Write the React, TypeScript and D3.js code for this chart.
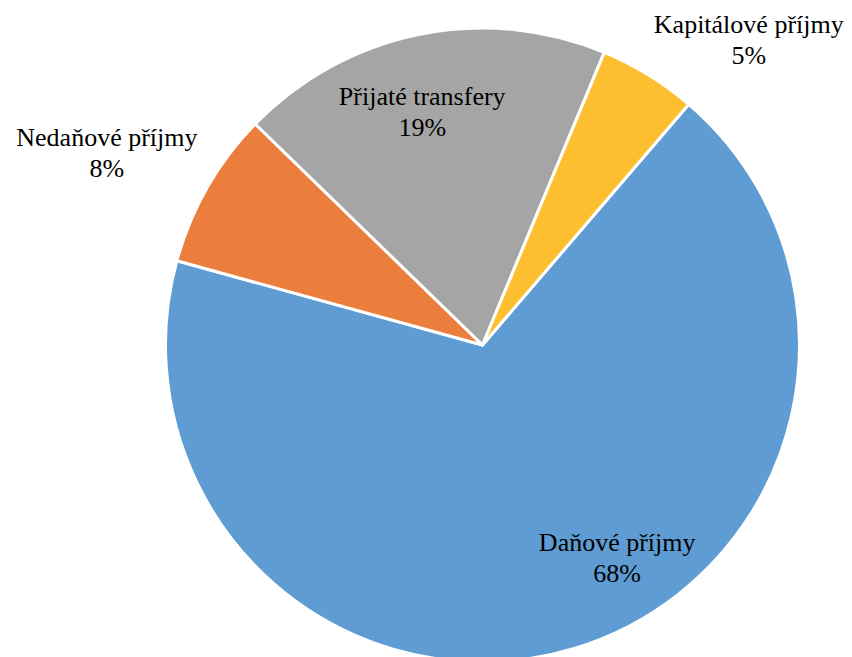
import { useEffect, useRef } from "react";
import * as d3 from "d3";

const categories = ["Daňové příjmy", "Nedaňové příjmy", "Přijaté transfery", "Kapitálové příjmy"];
const shares = [68, 8, 19, 5];
const colors = ["#5E9CD3", "#EB7E3C", "#A5A5A5", "#FDBF2F"];

// label anchor (first line baseline), polar around the pie centre
const labelAngles = [146.8, 297.9, 345.9, 40.5];
const labelRadii = [246, 425, 247.5, 410];

const WIDTH = 852;
const HEIGHT = 657;

export default function App() {
  const svgRef = useRef<SVGSVGElement>(null);

  useEffect(() => {
    if (!svgRef.current) return;
    const svg = d3.select(svgRef.current);
    svg.selectAll("*").remove();

    const cx = 482.5;
    const cy = 345;
    const radius = 317;

    const rows = categories.map((name, i) => ({ name, value: shares[i], i }));

    const pie = d3
      .pie<{ name: string; value: number; i: number }>()
      .sort(null)
      .value((d) => d.value)
      .startAngle((40.6 * Math.PI) / 180)
      .endAngle((400.6 * Math.PI) / 180);

    const arc = d3
      .arc<d3.PieArcDatum<{ name: string; value: number; i: number }>>()
      .innerRadius(0)
      .outerRadius(radius);

    const g = svg.append("g").attr("transform", `translate(${cx},${cy})`);

    g.selectAll("path")
      .data(pie(rows))
      .join("path")
      .attr("d", arc)
      .attr("fill", (d) => colors[d.data.i])
      .attr("stroke", "#fff")
      .attr("stroke-width", 3)
      .attr("stroke-linejoin", "round");

    const labels = g
      .selectAll("text")
      .data(rows)
      .join("text")
      .attr("text-anchor", "middle")
      .style("font-family", '"Liberation Serif", "DejaVu Serif", serif')
      .style("font-size", "26px")
      .attr("fill", "#000")
      .attr("transform", (d) => {
        const a = (labelAngles[d.i] * Math.PI) / 180;
        const r = labelRadii[d.i];
        return `translate(${r * Math.sin(a)},${-r * Math.cos(a)})`;
      });

    labels.append("tspan").attr("x", 0).attr("y", 0).text((d) => d.name);
    labels
      .append("tspan")
      .attr("x", 0)
      .attr("y", 31)
      .text((d) => `${d.value}%`);
  }, []);

  return (
    <>
      <style>{`body{margin:0;}`}</style>
      <svg ref={svgRef} width={WIDTH} height={HEIGHT} style={{ display: "block", background: "#fff" }} />
    </>
  );
}
